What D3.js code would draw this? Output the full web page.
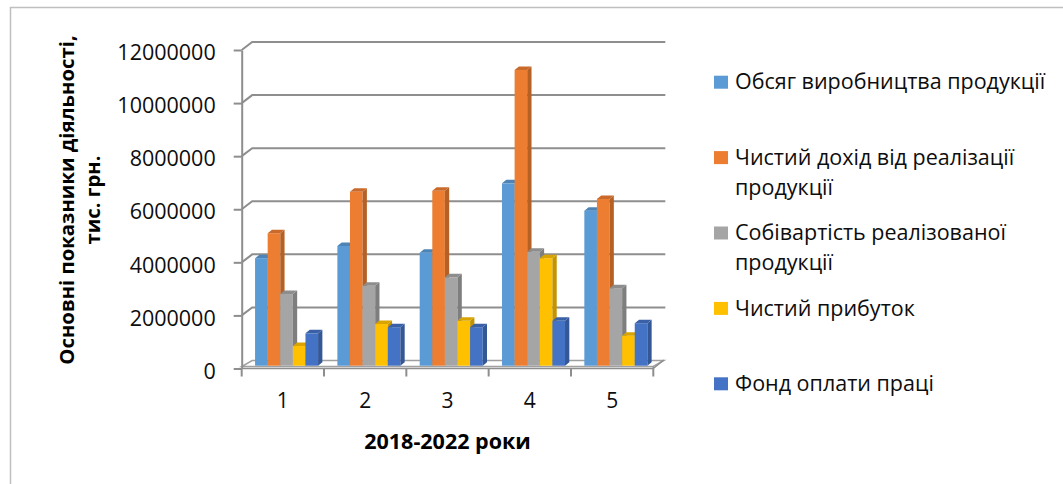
<!DOCTYPE html>
<html>
<head>
<meta charset="utf-8">
<script src="https://cdn.jsdelivr.net/npm/d3@7/dist/d3.min.js"></script>
<style>
  html, body { margin: 0; padding: 0; background: #fff; }
  svg { display: block; font-family: "Open Sans", "Noto Sans", sans-serif; }
</style>
</head>
<body>
<svg id="chart" width="1063" height="484"></svg>
<script>
// ---------- data ----------
const categories = ["1", "2", "3", "4", "5"];
const seriesNames = [
  "Обсяг виробництва продукції",
  "Чистий дохід від реалізації\nпродукції",
  "Собівартість реалізованої\nпродукції",
  "Чистий прибуток",
  "Фонд оплати праці"
];
const productionVolume = [4050000, 4510000, 4260000, 6870000, 5840000];
const netRevenue       = [4990000, 6550000, 6590000, 11140000, 6280000];
const costOfSales      = [2700000, 3010000, 3330000, 4290000, 2920000];
const netProfit        = [740000, 1570000, 1690000, 4050000, 1130000];
const payrollFund      = [1220000, 1450000, 1450000, 1690000, 1600000];
const yTickValues = [0, 2000000, 4000000, 6000000, 8000000, 10000000, 12000000];
const yAxisTitle = ["Основні показники діяльності,", "тис. грн."];
const xAxisTitle = "2018-2022 роки";

const seriesValues = [productionVolume, netRevenue, costOfSales, netProfit, payrollFund];
const seriesColors = ["#5B9BD5", "#ED7D31", "#A5A5A5", "#FFC000", "#4472C4"];

// ---------- layout ----------
const plotLeft = 241.7, plotRight = 653.3, yBottom = 368.5, yTop = 50;
const wallDx = 10.5, wallDy = -8;      // front -> back wall offset
const baseDx = 3.7, baseDy = -2.8;     // bar base position in depth
const barDx = 4.3, barDy = -3.5;       // bar depth
const gridColor = "#8e8e8e";
const textColor = "#0d0d0d";

const svg = d3.select("#chart");

// outer chart border (cropped frame)
svg.append("path")
  .attr("d", "M10.5,490 L10.5,7.5 L1070,7.5")
  .attr("fill", "none").attr("stroke", "#bfbfbf").attr("stroke-width", 1.5);

const x = d3.scaleBand().domain(categories).range([plotLeft, plotRight]).padding(0);
const xs = d3.scaleBand().domain(d3.range(seriesValues.length))
  .range([0, x.bandwidth()]).paddingInner(0).paddingOuter(0.766);
const y = d3.scaleLinear().domain([0, 12000000]).range([yBottom, yTop]);

// back wall gridlines with left diagonals
const grid = svg.append("g").attr("fill", "none").attr("stroke", gridColor).attr("stroke-width", 2);
yTickValues.forEach(v => {
  if (v === 0) return;
  grid.append("path")
    .attr("d", `M${plotLeft},${y(v)} L${plotLeft + wallDx},${y(v) + wallDy} L${plotRight + wallDx + 1.5},${y(v) + wallDy}`);
});

// floor slab
const floor = svg.append("g").attr("fill", "none").attr("stroke", "#a0a0a0").attr("stroke-width", 1.5);
floor.append("path")
  .attr("d", `M${plotLeft},${y(0) - 2} L${plotRight},${y(0) - 2} L${plotRight + wallDx},${y(0) + wallDy} L${plotLeft + wallDx},${y(0) + wallDy} Z`);
floor.append("path")
  .attr("d", `M${plotLeft},${y(0)} L${plotRight},${y(0)} L${plotRight},${y(0) - 2} M${plotRight},${y(0)} L${plotRight + wallDx},${y(0) + wallDy - 0.5}`)
  .attr("stroke", "#8e8e8e");

// y axis (front)
const yAxis = d3.axisLeft(y).tickValues(yTickValues).tickFormat(d3.format("d"))
  .tickSize(8).tickSizeOuter(0).tickPadding(18);
const yG = svg.append("g").attr("transform", `translate(${plotLeft},0)`).call(yAxis);
yG.select(".domain").attr("stroke", gridColor).attr("stroke-width", 2);
yG.selectAll(".tick line").attr("stroke", gridColor).attr("stroke-width", 2);
yG.selectAll(".tick text").attr("font-size", 21.5).attr("fill", textColor)
  .attr("font-family", "Open Sans").attr("dy", "0.45em");

// x axis (front)
const xAxis = d3.axisBottom(x).tickSize(0).tickPadding(0);
const xG = svg.append("g").attr("transform", `translate(0,${y(0)})`).call(xAxis);
xG.select(".domain").remove();
xG.selectAll(".tick text").attr("font-size", 21).attr("fill", textColor)
  .attr("font-family", "Open Sans").attr("dy", "1.9em");
// category boundary ticks
svg.append("g").attr("stroke", gridColor).attr("stroke-width", 2)
  .selectAll("line").data(categories.concat(["end"])).join("line")
  .attr("x1", (d, i) => i < categories.length ? x(d) : plotRight)
  .attr("x2", (d, i) => i < categories.length ? x(d) : plotRight)
  .attr("y1", y(0)).attr("y2", y(0) + 8);

// bars (3D)
const bars = svg.append("g");
categories.forEach((cat, ci) => {
  seriesValues.forEach((vals, si) => {
    const v = vals[ci];
    const x0 = x(cat) + xs(si) + baseDx;
    const w = xs.bandwidth();
    const yb = y(0) + baseDy;
    const yt = y(v) + baseDy;
    const c = d3.color(seriesColors[si]);
    const g = bars.append("g");
    g.append("rect").attr("x", x0).attr("y", yt).attr("width", w).attr("height", yb - yt)
      .attr("fill", c.formatHex());
    g.append("path")
      .attr("d", `M${x0 + w},${yt} L${x0 + w + barDx},${yt + barDy} L${x0 + w + barDx},${yb + barDy} L${x0 + w},${yb} Z`)
      .attr("fill", c.darker(0.75).formatHex());
    g.append("path")
      .attr("d", `M${x0},${yt} L${x0 + barDx},${yt + barDy} L${x0 + w + barDx},${yt + barDy} L${x0 + w},${yt} Z`)
      .attr("fill", c.darker(0.45).formatHex());
  });
});

// axis titles
const yTitle = svg.append("text")
  .attr("transform", "translate(0,200) rotate(-90)")
  .attr("text-anchor", "middle").attr("font-weight", "bold").attr("font-size", 20.3)
  .attr("fill", "#000");
yTitle.append("tspan").attr("x", 0).attr("y", 74).text(yAxisTitle[0]);
yTitle.append("tspan").attr("x", 0).attr("y", 100).text(yAxisTitle[1]);

svg.append("text")
  .attr("x", (plotLeft + plotRight) / 2).attr("y", 449)
  .attr("text-anchor", "middle").attr("font-weight", "bold").attr("font-size", 21.5)
  .attr("fill", "#000").text(xAxisTitle);

// legend
const legendX = 714, legendFirstY = 81.7, legendStep = 75.4, legendLine = 30;
const legend = svg.append("g");
seriesNames.forEach((name, i) => {
  const cy = legendFirstY + i * legendStep;
  legend.append("rect").attr("x", legendX).attr("y", cy - 6).attr("width", 14).attr("height", 13)
    .attr("fill", seriesColors[i]);
  const t = legend.append("text").attr("font-size", 21.5).attr("fill", textColor);
  name.split("\n").forEach((line, li) => {
    t.append("tspan").attr("x", 735).attr("y", cy + li * legendLine).attr("dy", "0.36em").text(line);
  });
});
</script>
</body>
</html>
